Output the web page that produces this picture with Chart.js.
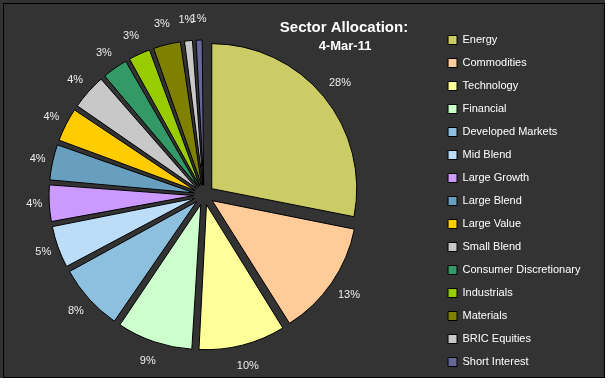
<!DOCTYPE html>
<html>
<head>
<meta charset="utf-8">
<script src="https://cdn.jsdelivr.net/npm/chart.js@4/dist/chart.umd.min.js"></script>
<style>
  html, body { margin: 0; padding: 0; background: #fff; }
  canvas { display: block; }
</style>
</head>
<body>
<canvas id="c" width="610" height="384"></canvas>
<script>
const categories = ["Energy", "Commodities", "Technology", "Financial", "Developed Markets", "Mid Blend",
  "Large Growth", "Large Blend", "Large Value", "Small Blend", "Consumer Discretionary", "Industrials",
  "Materials", "BRIC Equities", "Short Interest"];
const allocation = [28.1, 13.0, 9.8, 8.6, 7.6, 4.9, 4.3, 4.2, 4.0, 4.2, 3.1, 2.7, 3.3, 1.2, 1.0];
const sliceColors = ["#CCCC66", "#FFCC99", "#FFFF99", "#CCFFCC", "#8DBFDF", "#BCDDF8", "#CC99FF",
  "#689FBF", "#FFCC00", "#C8C8C8", "#339966", "#99CC00", "#808000", "#C8C8C8", "#666699"];
const titleLines = ["Sector Allocation:", "4-Mar-11"];

const FONT = "'Liberation Sans', Arial, sans-serif";
const PIE_R = 145;
const EXPLODE = 10; // px displacement of every slice
const PIE_CX = 204;

const framePlugin = {
  id: 'frame',
  beforeDraw(chart) {
    const ctx = chart.ctx;
    ctx.save();
    ctx.fillStyle = '#fff';
    ctx.fillRect(0, 0, 610, 384);
    ctx.fillStyle = '#333333';
    ctx.fillRect(0, 0, 605, 378);
    ctx.strokeStyle = '#000';
    ctx.lineWidth = 1;
    ctx.strokeRect(3.5, 3.5, 601, 374);
    ctx.restore();
  }
};

// centre the plot area on the pie's position left of the legend
const areaPlugin = {
  id: 'area',
  afterLayout(chart) {
    const a = chart.chartArea;
    a.left = 2 * PIE_CX - a.right;
    a.width = a.right - a.left;
  }
};

// keep every exploded slice at the same outer radius
const radiusFix = {
  id: 'radiusFix',
  afterDatasetUpdate(chart, args) {
    const meta = chart.getDatasetMeta(args.index);
    meta.data.forEach(arc => {
      const circ = arc.endAngle - arc.startAngle;
      const fix = 1 - Math.sin(Math.min(Math.PI, circ));
      arc.outerRadius = PIE_R - EXPLODE * fix;
    });
  }
};

const labelPlugin = {
  id: 'pctLabels',
  afterDatasetsDraw(chart) {
    const ctx = chart.ctx;
    const meta = chart.getDatasetMeta(0);
    const vals = chart.data.datasets[0].data;
    const total = vals.reduce((a, b) => a + b, 0);
    ctx.save();
    ctx.fillStyle = '#EEEEEE';
    ctx.font = '11px ' + FONT;
    ctx.textAlign = 'center';
    ctx.textBaseline = 'middle';
    meta.data.forEach((arc, i) => {
      const mid = (arc.startAngle + arc.endAngle) / 2;
      const c = Math.cos(mid);
      const d = PIE_R + EXPLODE + 21 - 6 * Math.pow(Math.max(0, -c), 2);
      const x = arc.x + c * d;
      const y = arc.y + Math.sin(mid) * d;
      ctx.fillText(Math.round(vals[i] / total * 100) + '%', x, y);
    });
    // title
    ctx.fillStyle = '#FFFFFF';
    ctx.font = 'bold 15px ' + FONT;
    ctx.textBaseline = 'alphabetic';
    ctx.fillText(titleLines[0], 344, 31.5);
    ctx.font = 'bold 13px ' + FONT;
    ctx.fillText(titleLines[1], 345, 50);
    ctx.restore();
  }
};

new Chart(document.getElementById('c'), {
  type: 'pie',
  data: {
    labels: categories,
    datasets: [{
      data: allocation,
      backgroundColor: sliceColors,
      borderColor: '#000',
      borderWidth: 1,
      offset: EXPLODE * 4
    }]
  },
  options: {
    responsive: false,
    animation: false,
    radius: PIE_R,
    layout: { padding: { left: 0, right: 19.5, top: 10.5, bottom: 4.5 } },
    plugins: {
      tooltip: { enabled: false },
      legend: {
        position: 'right',
        align: 'end',
        labels: {
          color: '#FFFFFF',
          font: { family: FONT, size: 11 },
          boxWidth: 9,
          boxHeight: 9,
          padding: 12
        }
      }
    }
  },
  plugins: [framePlugin, areaPlugin, radiusFix, labelPlugin]
});
</script>
</body>
</html>
